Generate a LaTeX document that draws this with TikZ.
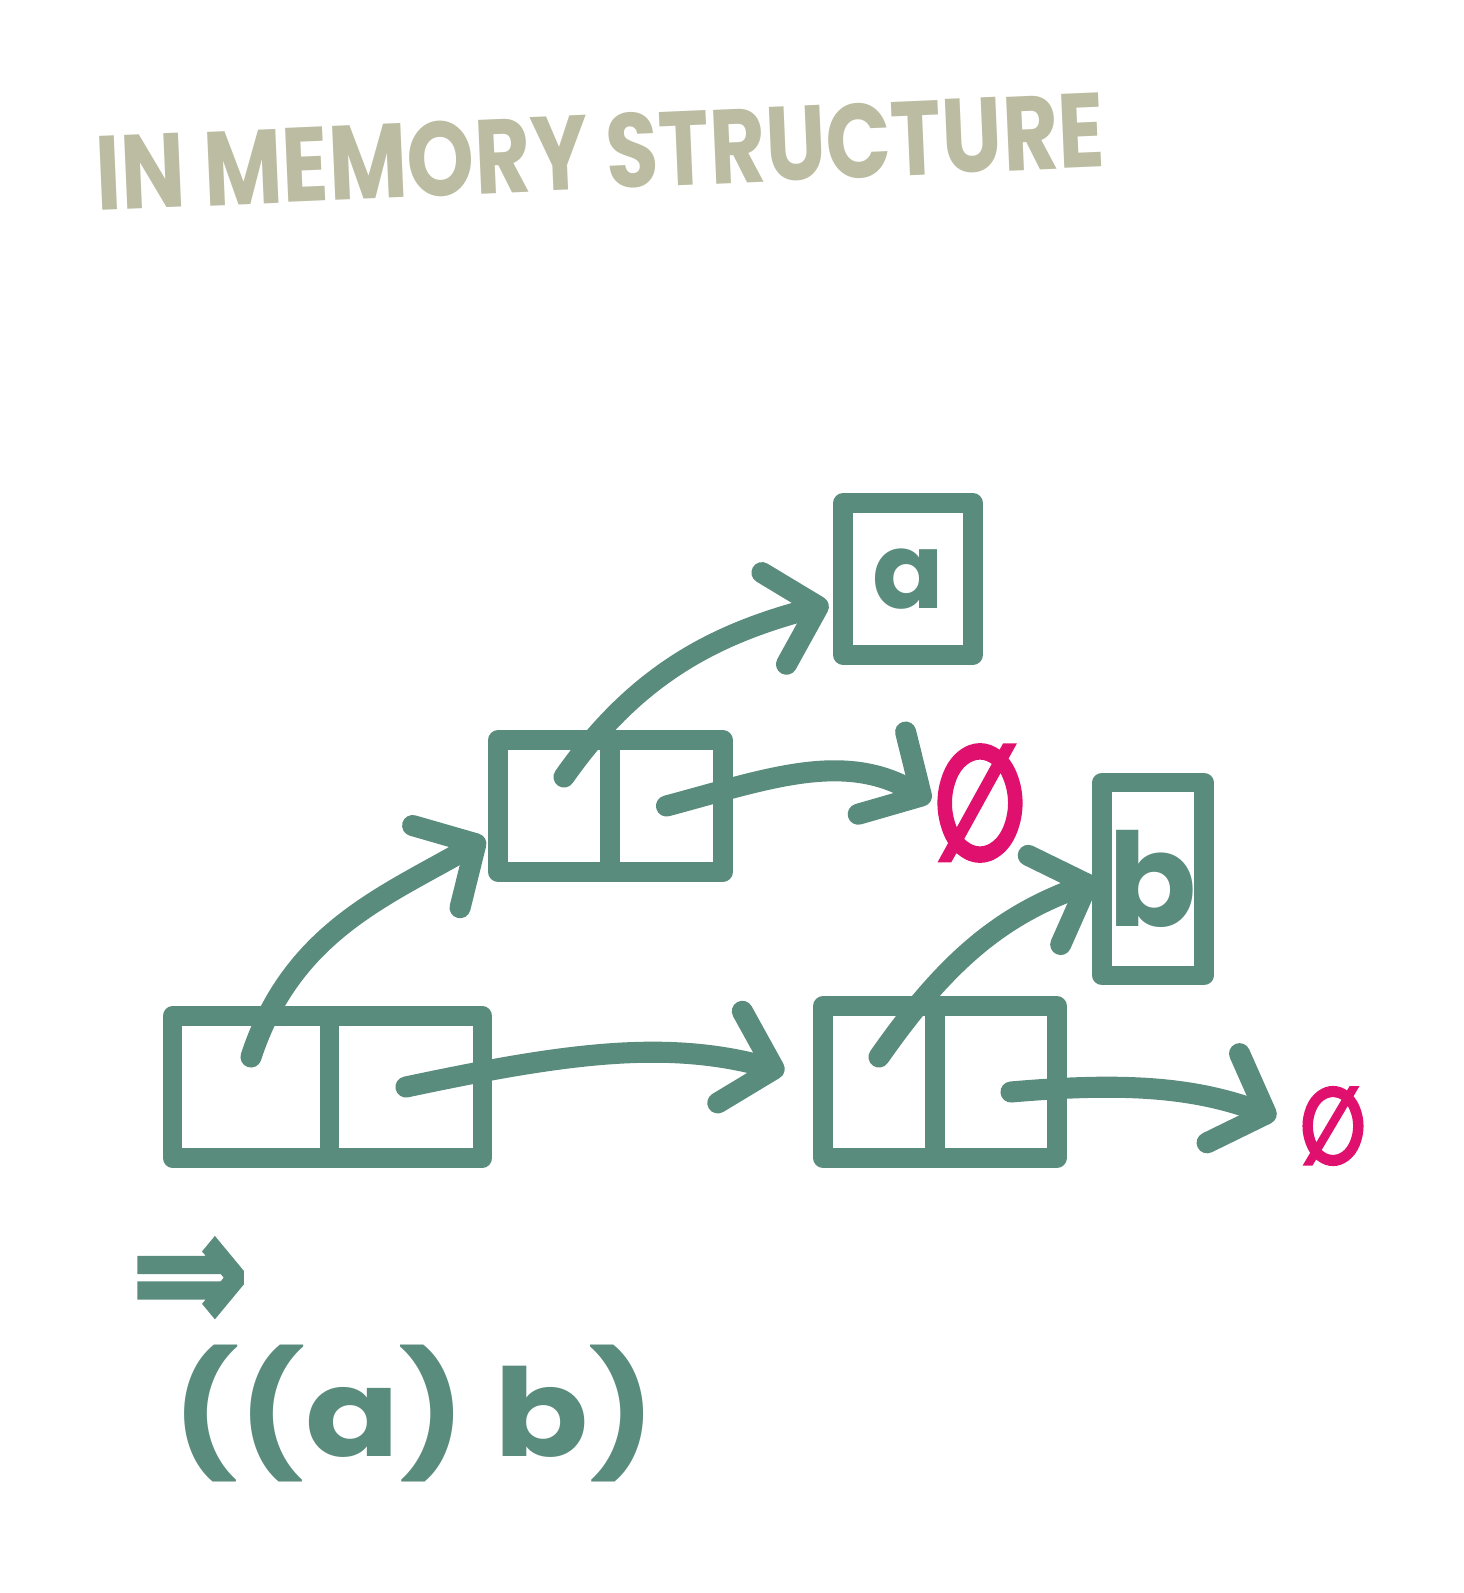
\documentclass[tikz,border=0pt]{standalone}
\usepackage{graphicx}
\usepackage{fontspec}
\setmainfont{Poppins}
\newfontfamily\djv{DejaVu Sans Bold}[FakeBold=3]
\usetikzlibrary{arrows.meta, positioning}
\definecolor{lispgreen}{HTML}{5A8C7E}
\definecolor{titlekhaki}{HTML}{BBBCA1}
\definecolor{nullpink}{HTML}{E0106F}

\begin{document}
\begin{tikzpicture}[x=0.02cm, y=0.02cm,
    half/.style={draw=lispgreen, line width=11pt, outer sep=0pt, inner sep=0pt, line join=round},
    atom/.style={half, text=lispgreen, font=\bfseries\fontsize{60}{64}\selectfont},
    ptr/.style={draw=lispgreen, line width=12pt, line cap=round, -{Straight Barb[length=26pt, width=54pt, round]}},
    nullsym/.style={inner sep=0pt, text=nullpink, font=\djv}]
    \useasboundingbox (0,0) rectangle (1464,-1593);

    % Title
    \node[anchor=south west, inner sep=0pt, rotate=2.5, text=titlekhaki, font=\bfseries] (title) at (97,-212) {\resizebox{20.2cm}{1.5cm}{IN MEMORY STRUCTURE}};

    % Cons cells
    \node[half, minimum width=3.14cm, minimum height=2.84cm] (c1car) at (251,-1087) {};
    \node[half, minimum width=3.06cm, minimum height=2.84cm, right=0pt of c1car] (c1cdr) {};
    \node[half, minimum width=2.24cm, minimum height=2.64cm] (c2car) at (554,-806) {};
    \node[half, minimum width=2.26cm, minimum height=2.64cm, right=0pt of c2car] (c2cdr) {};
    \node[half, minimum width=2.24cm, minimum height=3.04cm] (c3car) at (879,-1082) {};
    \node[half, minimum width=2.44cm, minimum height=3.04cm, right=0pt of c3car] (c3cdr) {};

    % Atoms
    \node[atom, minimum width=2.6cm, minimum height=3.04cm] (atoma) at (908,-579) {a};
    \node[atom, minimum width=2.04cm, minimum height=3.86cm, font=\bfseries\fontsize{74}{78}\selectfont] (atomb) at (1153,-879) {b};

    % Nil
    \node[nullsym] (null1) at (980,-803) {\resizebox*{1.84cm}{2.3cm}{∅}};
    \node[nullsym] (null2) at (1333,-1126) {\resizebox*{1.32cm}{1.54cm}{∅}};

    % Pointers
    \draw[ptr, shorten >=0.3cm] ([yshift=0.6cm]c1car.center) to[out=72, in=210] ([yshift=-0.5cm]c2car.west);
    \draw[ptr, shorten >=0.8cm] (c1cdr.center) to[out=12, in=165] (c3car.west);
    \draw[ptr, shorten >=0.3cm] ([shift={(0.2cm,0.58cm)}]c2car.center) to[out=55, in=195] ([yshift=-0.42cm]atoma.west);
    \draw[ptr, shorten >=2pt] (c2cdr.center) to[out=15, in=150] (null1.west);
    \draw[ptr, shorten >=0.1cm] ([yshift=0.5cm]c3car.center) to[out=55, in=200] (atomb.west);
    \draw[ptr, shorten >=0.5cm] ([shift={(0.3cm,-0.2cm)}]c3cdr.center) to[out=5, in=160] (null2.west);

    % Printed form
    \node[text=lispgreen, inner sep=0pt, font=\djv] (implies) at (190,-1285) {\resizebox*{2.34cm}{1.82cm}{⇒}};
    \node[text=lispgreen, inner sep=0pt, font=\bfseries] (sexpr) at (414,-1414) {\resizebox*{9.64cm}{2.74cm}{((a) b)}};
\end{tikzpicture}
\end{document}
